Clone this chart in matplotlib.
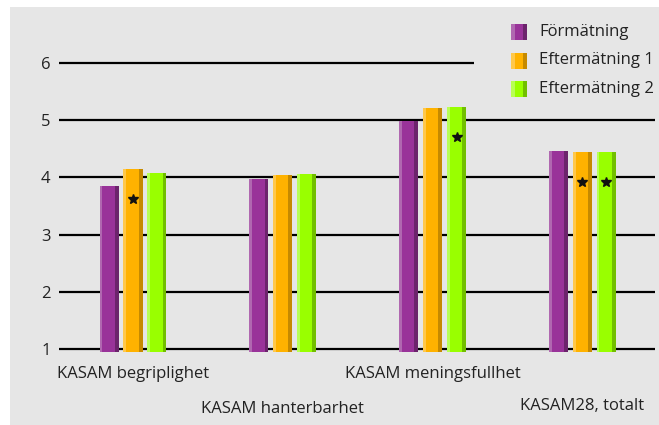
import matplotlib.pyplot as plt
from matplotlib.patches import Rectangle

plt.rcParams['font.family'] = ['Open Sans', 'DejaVu Sans']

categories = ["KASAM begriplighet", "KASAM hanterbarhet",
              "KASAM meningsfullhet", "KASAM28, totalt"]
series = ["Förmätning", "Eftermätning 1", "Eftermätning 2"]
formatning = [3.85, 3.97, 4.99, 4.46]
eftermatning1 = [4.15, 4.04, 5.21, 4.44]
eftermatning2 = [4.08, 4.06, 5.23, 4.44]
# significance markers (*) per series and category
signif1 = [True, False, False, True]
signif2 = [False, False, True, True]
yticks = [1, 2, 3, 4, 5, 6]

values = [formatning, eftermatning1, eftermatning2]
markers = [[False] * 4, signif1, signif2]

# main, light edge, dark edge
colors = [("#993399", "#b068b0", "#6c246c"),
          ("#ffb200", "#ffc84a", "#c68a00"),
          ("#99ff00", "#b8ff55", "#72bf00")]

W, H = 659, 425
fig = plt.figure(figsize=(W / 100, H / 100), dpi=100)
fig.patch.set_facecolor("white")
fig.add_artist(Rectangle((10 / W, 0), 1 - 10 / W, 1 - 7 / H,
                         transform=fig.transFigure, facecolor="#e6e6e6",
                         edgecolor="none", zorder=0))

ax_left, ax_right = 59 / W, 655 / W
ax_bottom = 1 - 351.9 / H
ax_top = 1 - 7 / H
ax = fig.add_axes([ax_left, ax_bottom, ax_right - ax_left, ax_top - ax_bottom])
ax.set_facecolor("none")

ax.set_ylim(0.95, 6.98)
ax.set_xlim(-0.494, 3.485)

for y in yticks:
    ax.axhline(y, color="black", lw=1.6, zorder=1)

bw = 0.127
step = 0.160
for s, vals in enumerate(values):
    main, light, dark = colors[s]
    for i, v in enumerate(vals):
        x0 = i + (s - 1) * step - bw / 2
        ax.add_patch(Rectangle((x0, 0), bw, v, facecolor=main,
                               edgecolor="none", zorder=2))
        ax.add_patch(Rectangle((x0, 0), bw * 0.14, v, facecolor=light,
                               edgecolor="none", zorder=3))
        ax.add_patch(Rectangle((x0 + bw * 0.8, 0), bw * 0.2, v,
                               facecolor=dark, edgecolor="none", zorder=3))
        if markers[s][i]:
            ax.plot(x0 + bw / 2, v - 0.52, marker="*", color="#111111",
                    markersize=7, zorder=4)

ax.set_yticks(yticks)
ax.set_yticklabels([str(t) for t in yticks], fontsize=12, color="#222222")
ax.tick_params(axis="y", length=0, pad=6)
ax.set_xticks([])
for sp in ax.spines.values():
    sp.set_visible(False)

# staggered category labels
label_y = [0.56, -0.04, 0.56, 0.0]
for i, name in enumerate(categories):
    ax.text(i, label_y[i], name, ha="center", va="center",
            fontsize=12, color="#222222", clip_on=False)

# legend box (covers the top grid line) with shaded swatches
fig.add_artist(Rectangle((474 / W, 1 - 100 / H), 1 - 474 / W, 90 / H,
                         facecolor="#e6e6e6", edgecolor="none",
                         transform=fig.transFigure, zorder=5))
for s, name in enumerate(series):
    main, light, dark = colors[s]
    yc = 1 - (31.7 + 28.8 * s) / H
    x0 = 511 / W
    sw, sh = 16 / W, 16 / H
    fig.add_artist(Rectangle((x0, yc - sh / 2), sw, sh, facecolor=main,
                             edgecolor="none", transform=fig.transFigure,
                             zorder=6))
    fig.add_artist(Rectangle((x0, yc - sh / 2), sw * 0.25, sh, facecolor=light,
                             edgecolor="none", transform=fig.transFigure,
                             zorder=7))
    fig.add_artist(Rectangle((x0 + sw * 0.75, yc - sh / 2), sw * 0.25, sh,
                             facecolor=dark, edgecolor="none",
                             transform=fig.transFigure, zorder=7))
    fig.text(539 / W, yc, name, ha="left", va="center", fontsize=12,
             color="#222222", zorder=8)

fig.savefig("out.png", dpi=100)
